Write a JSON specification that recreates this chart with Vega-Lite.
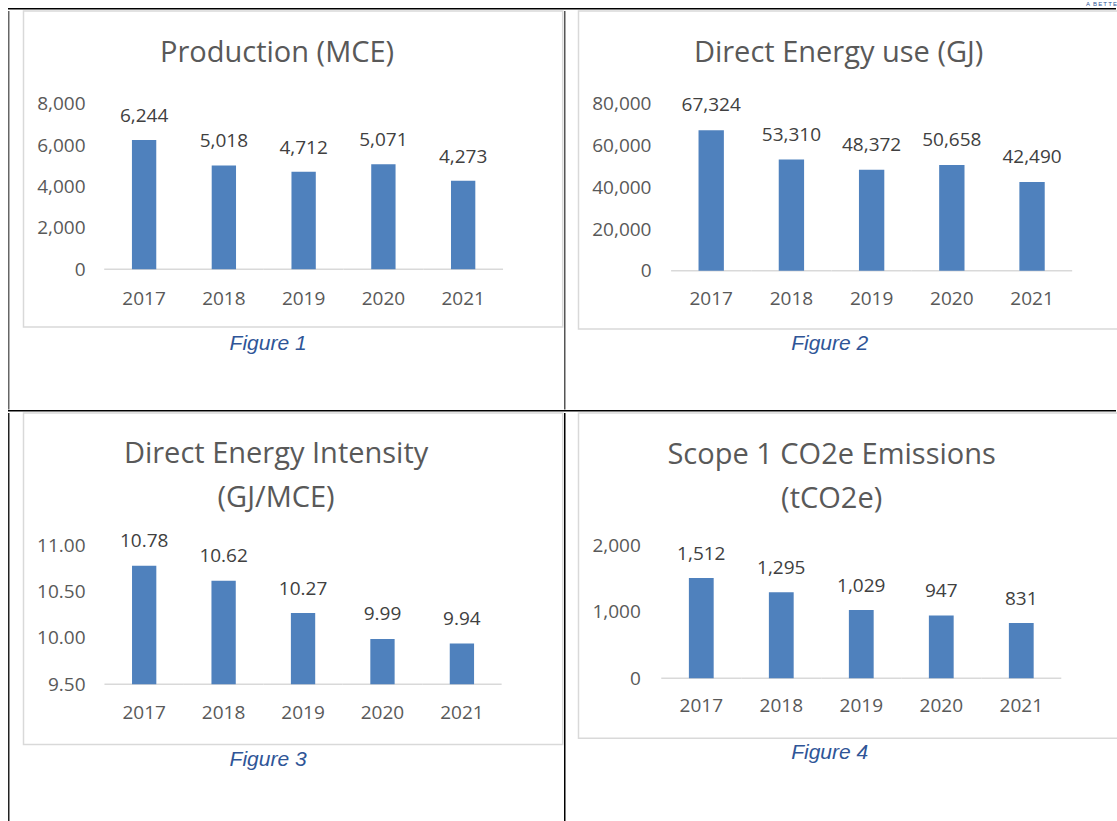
{
  "$schema": "https://vega.github.io/schema/vega-lite/v6.json",
  "padding": {"left": 8, "top": 0, "right": 0, "bottom": 0},
  "background": "white",
  "datasets": {
    "prod": [{"year": "2017", "value": 6244}, {"year": "2018", "value": 5018}, {"year": "2019", "value": 4712}, {"year": "2020", "value": 5071}, {"year": "2021", "value": 4273}],
    "energy": [{"year": "2017", "value": 67324}, {"year": "2018", "value": 53310}, {"year": "2019", "value": 48372}, {"year": "2020", "value": 50658}, {"year": "2021", "value": 42490}],
    "intensity": [{"year": "2017", "value": 10.78}, {"year": "2018", "value": 10.62}, {"year": "2019", "value": 10.27}, {"year": "2020", "value": 9.99}, {"year": "2021", "value": 9.94}],
    "scope1": [{"year": "2017", "value": 1512}, {"year": "2018", "value": 1295}, {"year": "2019", "value": 1029}, {"year": "2020", "value": 947}, {"year": "2021", "value": 831}],
    "cap1": [{"t": "Figure 1"}],
    "cap2": [{"t": "Figure 2"}],
    "cap3": [{"t": "Figure 3"}],
    "cap4": [{"t": "Figure 4"}],
    "header": [{"t": "A\u2002B\u2009E\u2009T\u2009T\u2009E"}],
    "none": []
  },
  "spacing": 0,
  "vconcat": [
    {
      "spacing": 0,
      "hconcat": [
        {"width": 1077, "height": 7.5, "data": {"name": "none"}, "mark": "point", "encoding": {}},
        {"width": 31, "height": 7.5, "data": {"name": "header"}, "mark": {"type": "text", "font": "Liberation Sans", "fontSize": 6, "color": "#2F5597", "baseline": "middle"}, "encoding": {"text": {"field": "t"}}}
      ]
    },
    {"width": 1108, "height": 1.5, "data": {"name": "none"}, "mark": "point", "encoding": {}, "view": {"fill": "#000000", "stroke": null}},
    {
      "spacing": 0,
      "hconcat": [
        {
          "spacing": 12.5,
          "hconcat": [
            {"width": 1.5, "height": 398.5, "data": {"name": "none"}, "mark": "point", "encoding": {}, "view": {"fill": "#666666", "stroke": null}},
            {
              "spacing": 0,
              "vconcat": [
                {
                  "width": 539.2, "height": 316,
                  "view": {"stroke": "#d9d9d9", "strokeWidth": 1.5},
                  "title": {"text": "Production (MCE)", "offset": -57, "dx": -16},
                  "data": {"name": "prod"},
                  "encoding": {
                    "x": {"field": "year", "type": "nominal", "scale": {"paddingInner": 0, "paddingOuter": 0.88, "align": 0.575}, "axis": {"title": null, "labelAngle": 0, "offset": -37.5}},
                    "y": {"field": "value", "type": "quantitative", "scale": {"domain": [-2796, 12489]}, "axis": {"title": null, "values": [0, 2000, 4000, 6000, 8000], "format": ",d", "offset": -61.5}}
                  },
                  "layer": [
                    {"mark": {"type": "bar", "fillOpacity": 0, "stroke": "#d9d9d9", "strokeWidth": 1.5, "width": {"band": 1}}, "encoding": {"y": {"datum": 0, "type": "quantitative"}, "y2": {"datum": 0}}},
                    {"mark": {"type": "bar", "color": "#4F81BD", "width": {"band": 0.305}}},
                    {"mark": {"type": "text", "dy": -24}, "encoding": {"text": {"field": "value", "type": "quantitative", "format": ",d"}}}
                  ]
                },
                {"width": 539.2, "height": 81, "data": {"name": "cap1"}, "mark": {"type": "text", "font": "Liberation Sans", "fontStyle": "italic", "fontSize": 21, "color": "#2F5597", "dx": -25, "dy": -25}, "encoding": {"text": {"field": "t"}}}
              ]
            }
          ]
        },
        {
          "spacing": 11.5,
          "hconcat": [
            {"width": 1.5, "height": 398.5, "data": {"name": "none"}, "mark": "point", "encoding": {}, "view": {"fill": "#555555", "stroke": null}},
            {
              "spacing": 0,
              "vconcat": [
                {
                  "width": 540.3, "height": 318,
                  "view": {"stroke": "#d9d9d9", "strokeWidth": 1.5},
                  "title": {"text": "Direct Energy use (GJ)", "offset": -56.5, "dx": -10},
                  "data": {"name": "energy"},
                  "encoding": {
                    "x": {"field": "year", "type": "nominal", "scale": {"paddingInner": 0, "paddingOuter": 0.868, "align": 0.665}, "axis": {"title": null, "labelAngle": 0, "offset": -39.5}},
                    "y": {"field": "value", "type": "quantitative", "scale": {"domain": [-27880, 124455]}, "axis": {"title": null, "values": [0, 20000, 40000, 60000, 80000], "format": ",d", "offset": -72.5}}
                  },
                  "layer": [
                    {"mark": {"type": "bar", "fillOpacity": 0, "stroke": "#d9d9d9", "strokeWidth": 1.5, "width": {"band": 1}}, "encoding": {"y": {"datum": 0, "type": "quantitative"}, "y2": {"datum": 0}}},
                    {"mark": {"type": "bar", "color": "#4F81BD", "width": {"band": 0.316}}},
                    {"mark": {"type": "text", "dy": -25}, "encoding": {"text": {"field": "value", "type": "quantitative", "format": ",d"}}}
                  ]
                },
                {"width": 540.3, "height": 79, "data": {"name": "cap2"}, "mark": {"type": "text", "font": "Liberation Sans", "fontStyle": "italic", "fontSize": 21, "color": "#2F5597", "dx": -19, "dy": -26}, "encoding": {"text": {"field": "t"}}}
              ]
            }
          ]
        }
      ]
    },
    {"width": 1108, "height": 1.5, "data": {"name": "none"}, "mark": "point", "encoding": {}, "view": {"fill": "#000000", "stroke": null}},
    {
      "spacing": 0,
      "hconcat": [
        {
          "spacing": 12.5,
          "hconcat": [
            {"width": 1.5, "height": 412, "data": {"name": "none"}, "mark": "point", "encoding": {}, "view": {"fill": "#222222", "stroke": null}},
            {
              "spacing": 0,
              "vconcat": [
                {
                  "width": 539.2, "height": 331.5,
                  "view": {"stroke": "#d9d9d9", "strokeWidth": 1.5},
                  "title": {"text": ["Direct Energy Intensity", "(GJ/MCE)"], "offset": -99.5, "dx": -17},
                  "data": {"name": "intensity"},
                  "encoding": {
                    "x": {"field": "year", "type": "nominal", "scale": {"paddingInner": 0, "paddingOuter": 0.894, "align": 0.57}, "axis": {"title": null, "labelAngle": 0, "offset": -41.5}},
                    "y": {"field": "value", "type": "quantitative", "scale": {"domain": [8.8479, 12.4329], "zero": false}, "axis": {"title": null, "values": [9.5, 10, 10.5, 11], "format": ".2f", "offset": -61.5}}
                  },
                  "layer": [
                    {"mark": {"type": "bar", "fillOpacity": 0, "stroke": "#d9d9d9", "strokeWidth": 1.5, "width": {"band": 1}}, "encoding": {"y": {"datum": 9.5, "type": "quantitative"}, "y2": {"datum": 9.5}}},
                    {"mark": {"type": "bar", "color": "#4F81BD", "width": {"band": 0.306}}, "encoding": {"y2": {"datum": 9.5}}},
                    {"mark": {"type": "text", "dy": -24.4}, "encoding": {"text": {"field": "value", "type": "quantitative", "format": ".2f"}}}
                  ]
                },
                {"width": 539.2, "height": 79, "data": {"name": "cap3"}, "mark": {"type": "text", "font": "Liberation Sans", "fontStyle": "italic", "fontSize": 21, "color": "#2F5597", "dx": -25, "dy": -25.5}, "encoding": {"text": {"field": "t"}}}
              ]
            }
          ]
        },
        {
          "spacing": 11.5,
          "hconcat": [
            {"width": 1.5, "height": 412, "data": {"name": "none"}, "mark": "point", "encoding": {}, "view": {"fill": "#000000", "stroke": null}},
            {
              "spacing": 0,
              "vconcat": [
                {
                  "width": 540.3, "height": 325.2,
                  "view": {"stroke": "#d9d9d9", "strokeWidth": 1.5},
                  "title": {"text": ["Scope 1 CO2e Emissions", "(tCO2e)"], "offset": -101, "dx": -17},
                  "data": {"name": "scope1"},
                  "encoding": {
                    "x": {"field": "year", "type": "nominal", "scale": {"paddingInner": 0, "paddingOuter": 0.877, "align": 0.59}, "axis": {"title": null, "labelAngle": 0, "offset": -41.9}},
                    "y": {"field": "value", "type": "quantitative", "scale": {"domain": [-904, 3997]}, "axis": {"title": null, "values": [0, 1000, 2000], "format": ",d", "offset": -61.8}}
                  },
                  "layer": [
                    {"mark": {"type": "bar", "fillOpacity": 0, "stroke": "#d9d9d9", "strokeWidth": 1.5, "width": {"band": 1}}, "encoding": {"y": {"datum": 0, "type": "quantitative"}, "y2": {"datum": 0}}},
                    {"mark": {"type": "bar", "color": "#4F81BD", "width": {"band": 0.31}}},
                    {"mark": {"type": "text", "dy": -24}, "encoding": {"text": {"field": "value", "type": "quantitative", "format": ",d"}}}
                  ]
                },
                {"width": 540.3, "height": 85.3, "data": {"name": "cap4"}, "mark": {"type": "text", "font": "Liberation Sans", "fontStyle": "italic", "fontSize": 21, "color": "#2F5597", "dx": -19, "dy": -29}, "encoding": {"text": {"field": "t"}}}
              ]
            }
          ]
        }
      ]
    }
  ],
  "config": {
    "view": {"stroke": null},
    "axis": {"labelFont": "Open Sans", "labelFontSize": 19, "labelColor": "#595959", "domain": false, "ticks": false, "tickSize": 0, "labelPadding": 0, "grid": false},
    "title": {"font": "Open Sans", "fontSize": 29, "fontWeight": "normal", "color": "#595959", "anchor": "middle", "frame": "group", "baseline": "alphabetic", "lineHeight": 44},
    "text": {"font": "Open Sans", "fontSize": 19, "color": "#404040", "baseline": "middle"}
  }
}
